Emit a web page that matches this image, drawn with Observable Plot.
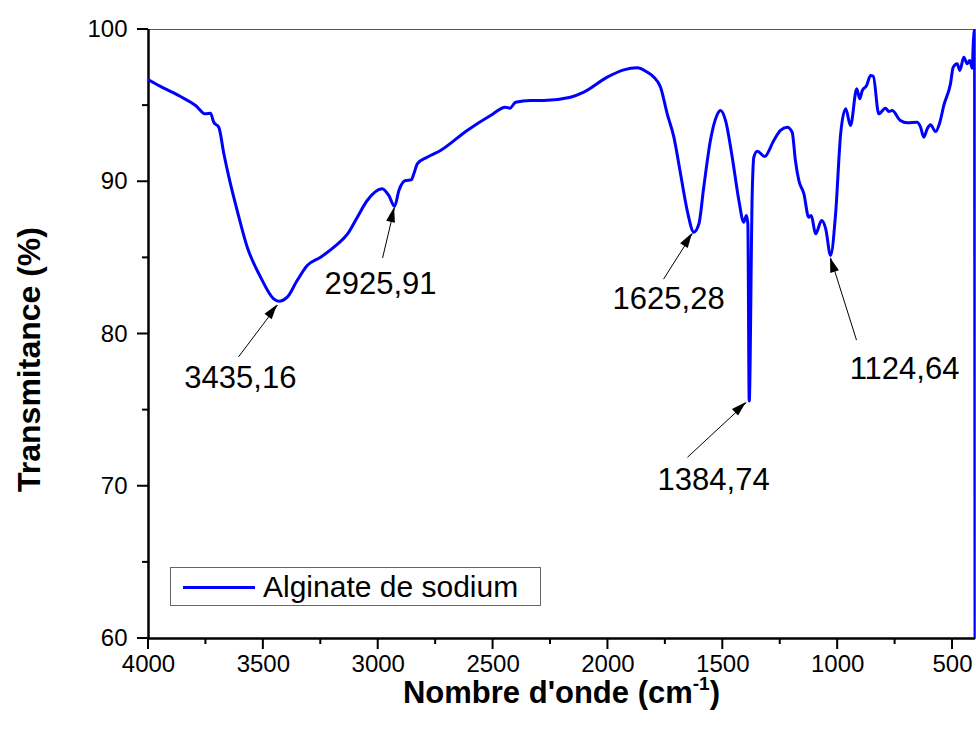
<!DOCTYPE html>
<html>
<head>
<meta charset="utf-8">
<script src="https://cdn.jsdelivr.net/npm/d3@7"></script>
<script src="https://cdn.jsdelivr.net/npm/@observablehq/plot@0.6"></script>
<style>
  html, body { margin: 0; padding: 0; background: #fff; }
  #wrap { position: relative; width: 976px; height: 737px; font-family: "Liberation Sans", Arial, sans-serif; }
  #legend { position: absolute; left: 170px; top: 567px; width: 371px; height: 39px; border: 1px solid #666; background: #fff; box-sizing: border-box; }
  #legend .swatch { position: absolute; left: 12px; top: 18px; width: 72px; height: 0; border-top: 3px solid #0000ff; }
  #legend .lab { position: absolute; left: 92px; top: -1px; font-size: 30px; line-height: 39px; color: #000; white-space: nowrap; }
</style>
</head>
<body>
<div id="wrap"></div>
<script>
// Spectrum values
const wavenumber = [4000,3948,3861,3795,3752,3730,3716,3694,3672,3650,
  3614,3570,3512,3455,3433,3396,3353,3309,3251,3193,
  3128,3091,3048,2983,2954,2929,2910,2881,2856,2845,
  2830,2787,2729,2613,2511,2446,2427,2402,2337,2279,
  2163,2105,2003,1931,1873,1829,1800,1771,1742,1713,
  1684,1655,1626,1604,1583,1554,1526,1510,1488,1459,
  1430,1409,1397,1391,1385,1372,1365,1350,1318,1278,
  1249,1220,1198,1184,1169,1147,1126,1115,1096,1070,
  1052,1031,1009,987,965,944,917,904,893,874,
  857,845,821,792,777,763,727,697,654,639,
  625,610,596,574,555,538,509,497,480,468,
  451,436,425,414,410,404,402];
const transmittance = [96.70,96.26,95.60,95.01,94.46,94.50,93.91,93.58,91.84,90.30,
  88.11,85.70,83.73,82.31,82.15,82.42,83.51,84.50,85.04,85.70,
  86.69,87.67,88.77,89.54,89.10,88.39,89.43,90.08,90.13,90.52,
  91.18,91.61,92.05,93.37,94.35,94.90,94.83,95.22,95.34,95.34,
  95.55,95.88,96.87,97.35,97.48,97.20,96.87,96.21,94.46,92.93,
  90.52,88.11,86.69,87.24,89.64,92.71,94.35,94.68,94.02,91.61,
  88.77,87.34,87.78,87.24,75.6,89.21,91.61,92.01,91.66,92.71,
  93.37,93.58,93.25,91.40,90.08,89.21,87.67,87.78,86.58,87.45,
  86.91,85.16,87.89,93.15,94.79,93.69,96.11,95.45,95.99,96.32,
  96.98,96.93,94.46,94.83,94.61,94.68,94.02,93.87,93.91,93.58,
  92.93,93.48,93.74,93.30,93.91,95.01,96.43,97.52,97.75,97.31,
  98.18,97.75,97.96,97.46,98.95,100,59.5];

const seriesName = "Alginate de sodium";
const xTitle = "Nombre d'onde (cm";
const xTitleSup = "-1";
const yTitle = "Transmitance (%)";

// Peak annotations: label text, label position, arrow start and tip
const peakLabels = ["3435,16", "2925,91", "1625,28", "1384,74", "1124,64"];
const labelX = [3600, 2990, 1736, 1540, 709];
const labelY = [77.1, 83.3, 82.3, 70.4, 77.7];
const arrowFromX = [3608, 2981, 1758, 1654, 918];
const arrowFromY = [78.5, 85.0, 83.6, 71.9, 79.6];
const arrowToX = [3438, 2929, 1632, 1397, 1031];
const arrowToY = [81.9, 88.3, 86.6, 75.5, 85.0];

const xMajor = [4000, 3500, 3000, 2500, 2000, 1500, 1000, 500];
const xMinor = [3750, 3250, 2750, 2250, 1750, 1250, 750];
const yMajor = [60, 70, 80, 90, 100];
const yMinor = [65, 75, 85, 95];

const spectrum = wavenumber.map((w, i) => ({w, t: transmittance[i]}));
const peaks = peakLabels.map((label, i) => ({
  label, lx: labelX[i], ly: labelY[i],
  x1: arrowFromX[i], y1: arrowFromY[i], x2: arrowToX[i], y2: arrowToY[i]
}));

const font = "'Liberation Sans', Arial, sans-serif";

const plot = Plot.plot({
  width: 976,
  height: 737,
  marginLeft: 148,
  marginRight: 1,
  marginTop: 29,
  marginBottom: 99,
  style: {fontFamily: font, fontSize: "24px", color: "#000", background: "#fff", overflow: "visible"},
  x: {domain: [4000, 400]},
  y: {domain: [60, 100]},
  marks: [
    Plot.frame({stroke: "#555", strokeWidth: 1}),
    Plot.axisX({ticks: xMajor, tickSize: 0, tickPadding: 16, label: null, fontSize: 24, tickFormat: d3.format("d")}),
    Plot.axisY({ticks: yMajor, tickSize: 0, tickPadding: 21, label: null, fontSize: 24, tickFormat: d3.format("d")}),
    Plot.ruleY([60], {stroke: "#000", strokeWidth: 2.5}),
    Plot.ruleX([4000], {stroke: "#000", strokeWidth: 2.5}),
    Plot.line(spectrum, {x: "w", y: "t", stroke: "#0000ff", strokeWidth: 3, clip: true, curve: "monotone-x"}),
    Plot.link(peaks, {x1: "x1", y1: "y1", x2: "x2", y2: "y2", stroke: "#000", strokeWidth: 1}),
    Plot.text(peaks, {x: "lx", y: "ly", text: "label", fontSize: 31, fill: "#000", textAnchor: "middle"})
  ]
});

document.getElementById("wrap").appendChild(plot);

// Tick marks, filled arrowheads and axis titles, positioned through the plot's scales
const sx = plot.scale("x"), sy = plot.scale("y");
const svg = d3.select(plot);
const x0 = sx.apply(4000), y0 = sy.apply(60);
const tg = svg.append("g").attr("stroke", "#000").attr("stroke-width", 2);
xMajor.forEach(v => tg.append("line").attr("x1", sx.apply(v)).attr("x2", sx.apply(v)).attr("y1", y0).attr("y2", y0 + 11));
xMinor.forEach(v => tg.append("line").attr("x1", sx.apply(v)).attr("x2", sx.apply(v)).attr("y1", y0).attr("y2", y0 + 6));
yMajor.forEach(v => tg.append("line").attr("y1", sy.apply(v)).attr("y2", sy.apply(v)).attr("x1", x0 - 11).attr("x2", x0));
yMinor.forEach(v => tg.append("line").attr("y1", sy.apply(v)).attr("y2", sy.apply(v)).attr("x1", x0 - 6).attr("x2", x0));

const heads = svg.append("g").attr("fill", "#000");
peaks.forEach(p => {
  const ax = sx.apply(p.x1), ay = sy.apply(p.y1);
  const bx = sx.apply(p.x2), by = sy.apply(p.y2);
  const dx = bx - ax, dy = by - ay, L = Math.hypot(dx, dy);
  const ux = dx / L, uy = dy / L, len = 15, hw = 4.5;
  const baseX = bx - ux * len, baseY = by - uy * len;
  heads.append("polygon").attr("points", [
    [bx, by],
    [baseX - uy * hw, baseY + ux * hw],
    [baseX + uy * hw, baseY - ux * hw]
  ].map(d => d.join(",")).join(" "));
});

const cx = (sx.apply(4000) + sx.apply(400)) / 2;
const xt = svg.append("text")
  .attr("x", cx).attr("y", y0 + 65)
  .attr("text-anchor", "middle")
  .attr("font-family", font).attr("font-size", 31).attr("font-weight", "bold").attr("fill", "#000");
xt.append("tspan").text(xTitle);
xt.append("tspan").attr("font-size", 19).attr("dy", -13).text(xTitleSup);
xt.append("tspan").attr("dy", 13).text(")");

const ty = sy.apply(80) + 26;
svg.append("text")
  .attr("transform", `translate(${x0 - 108},${ty}) rotate(-90)`)
  .attr("text-anchor", "middle")
  .attr("font-family", font).attr("font-size", 32).attr("font-weight", "bold").attr("fill", "#000")
  .text(yTitle);

// Legend (inside the plot area, bottom-left)
const legend = document.createElement("div");
legend.id = "legend";
legend.innerHTML = '<div class="swatch"></div><div class="lab"></div>';
legend.querySelector(".lab").textContent = seriesName;
document.getElementById("wrap").appendChild(legend);
</script>
</body>
</html>
